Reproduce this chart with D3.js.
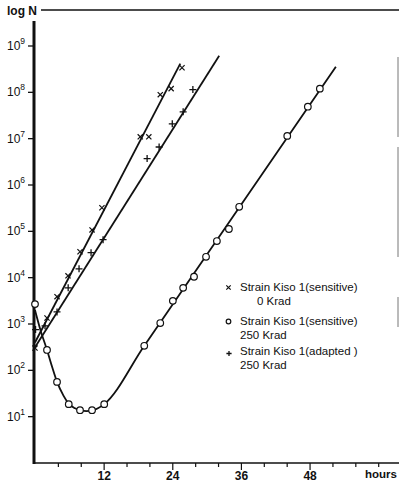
<!DOCTYPE html>
<html>
<head>
<meta charset="utf-8">
<script src="https://cdn.jsdelivr.net/npm/d3@7"></script>
<style>
  html, body { margin: 0; padding: 0; background: #fff; }
  svg { display: block; }
  text { font-family: "Liberation Sans", Arial, sans-serif; fill: #111; }
</style>
</head>
<body>
<svg id="chart" width="399" height="482"></svg>
<script>
// ---- data (hours, log10 N) ----
const sensitive0Hours = [0, 2.1, 3.85, 5.77, 7.87, 9.97, 11.7, 18.4, 19.9, 21.9, 23.8, 25.7];
const sensitive0LogN  = [2.48, 3.13, 3.59, 4.04, 4.56, 5.03, 5.51, 7.04, 7.04, 7.95, 8.08, 8.53];

const adaptedHours = [0.1, 1.75, 3.85, 5.8, 7.7, 9.8, 11.9, 19.6, 21.7, 24.0, 25.9, 27.6];
const adaptedLogN  = [2.88, 2.96, 3.26, 3.78, 4.19, 4.54, 4.82, 6.57, 6.82, 7.32, 7.58, 8.06];

const sensitive250Hours = [0, 2.1, 3.85, 5.9, 7.87, 9.97, 12.1, 19.1, 21.9, 24.1, 25.9, 27.8, 29.9, 31.8, 33.9, 35.7, 44.1, 47.7, 49.8];
const sensitive250LogN  = [3.43, 2.44, 1.75, 1.27, 1.14, 1.14, 1.27, 2.53, 3.02, 3.50, 3.78, 4.02, 4.45, 4.79, 5.05, 5.53, 7.06, 7.69, 8.08];

// fitted curves drawn in the figure
const sensitive0FitHours = [0, 25.4];
const sensitive0FitLogN  = [2.6, 8.62];
const adaptedFitHours = [0, 32.2];
const adaptedFitLogN  = [2.5, 8.79];
const sensitive250FitHours = [0, 1, 2.1, 3, 3.85, 5, 5.9, 7, 8, 9, 10, 11, 12.1, 19.1, 36, 52.6];
const sensitive250FitLogN  = [3.3, 2.85, 2.44, 2.07, 1.75, 1.45, 1.28, 1.18, 1.13, 1.12, 1.13, 1.18, 1.27, 2.53, 5.57, 8.55];

const yTickExponents = [1, 2, 3, 4, 5, 6, 7, 8, 9];
const xTickHours = [4, 8, 12, 16, 20, 24, 28, 32, 36, 40, 44, 48, 52, 56, 60];
const xLabelHours = [12, 24, 36, 48];

const legendItems = [
  { marker: "x", line1: "Strain Kiso 1(sensitive)", line2: "0 Krad" },
  { marker: "o", line1: "Strain Kiso 1(sensitive)", line2: "250 Krad" },
  { marker: "+", line1: "Strain Kiso 1(adapted )", line2: "250 Krad" }
];

// ---- drawing ----
const svg = d3.select("#chart");
const x = d3.scaleLinear().domain([0, 60]).range([35, 378.2]);
const y = d3.scaleLinear().domain([0, 9]).range([463, 46]);
const ink = "#111";

// top "log N" rule
svg.append("text").attr("x", 7).attr("y", 14.5)
  .attr("font-size", 12).attr("font-weight", "bold").text("log N");
svg.append("line").attr("x1", 41).attr("x2", 399).attr("y1", 10).attr("y2", 10)
  .attr("stroke", ink).attr("stroke-width", 1.4);

// scan edge line on the right
svg.append("line").attr("x1", 398).attr("x2", 398).attr("y1", 57).attr("y2", 345)
  .attr("stroke", "#777").attr("stroke-width", 1).attr("stroke-dasharray", "80,10,110,40,30");

// y axis (thick)
svg.append("line").attr("x1", x(0) - 1).attr("x2", x(0) - 1).attr("y1", 21).attr("y2", 464)
  .attr("stroke", ink).attr("stroke-width", 3);

const yt = svg.append("g");
yTickExponents.forEach(e => {
  yt.append("line").attr("x1", x(0) - 7).attr("x2", x(0) - 1)
    .attr("y1", y(e)).attr("y2", y(e)).attr("stroke", ink).attr("stroke-width", 1.3);
  const t = yt.append("text").attr("x", 7).attr("y", y(e) + 4).attr("font-size", 12);
  t.append("tspan").text("10");
  t.append("tspan").attr("dy", -6).attr("font-size", 8.5).text(e);
});

// x axis
svg.append("line").attr("x1", x(0) - 2).attr("x2", 399).attr("y1", 463).attr("y2", 463)
  .attr("stroke", ink).attr("stroke-width", 1.6);
const xAxis = d3.axisBottom(x).tickValues(xTickHours).tickSize(4)
  .tickFormat(d => xLabelHours.includes(d) ? d : "");
const gx = svg.append("g").attr("transform", "translate(0,463)").call(xAxis);
gx.select(".domain").remove();
gx.selectAll(".tick line").attr("stroke", ink).attr("stroke-width", 1.2);
gx.selectAll(".tick").filter(d => xLabelHours.includes(d)).select("line").attr("y2", 7);
gx.selectAll(".tick text").attr("y", 8).attr("dy", "0.71em")
  .attr("font-size", 12).attr("font-weight", "bold")
  .style("font-family", '"Liberation Sans", Arial, sans-serif').attr("fill", ink);
svg.append("text").attr("x", 397).attr("y", 478).attr("font-size", 11.5)
  .attr("text-anchor", "end").attr("font-weight", "bold").text("hours");

// fitted lines
const lineGen = d3.line().x(d => x(d[0])).y(d => y(d[1]));
const zip = (a, b) => a.map((v, i) => [v, b[i]]);
svg.append("path").datum(zip(sensitive0FitHours, sensitive0FitLogN))
  .attr("d", lineGen).attr("fill", "none").attr("stroke", ink).attr("stroke-width", 1.8);
svg.append("path").datum(zip(adaptedFitHours, adaptedFitLogN))
  .attr("d", lineGen).attr("fill", "none").attr("stroke", ink).attr("stroke-width", 1.8);
svg.append("path").datum(zip(sensitive250FitHours, sensitive250FitLogN))
  .attr("d", lineGen.curve(d3.curveMonotoneX)).attr("fill", "none")
  .attr("stroke", ink).attr("stroke-width", 1.8);

// markers
function drawX(g, cx, cy, s) {
  g.append("path").attr("d", `M${cx - s},${cy - s}L${cx + s},${cy + s}M${cx - s},${cy + s}L${cx + s},${cy - s}`)
    .attr("stroke", ink).attr("stroke-width", 1.2).attr("fill", "none");
}
function drawPlus(g, cx, cy, s) {
  g.append("path").attr("d", `M${cx - s},${cy}L${cx + s},${cy}M${cx},${cy - s}L${cx},${cy + s}`)
    .attr("stroke", ink).attr("stroke-width", 1.3).attr("fill", "none");
}
function drawO(g, cx, cy, r) {
  g.append("circle").attr("cx", cx).attr("cy", cy).attr("r", r)
    .attr("fill", "#fff").attr("stroke", ink).attr("stroke-width", 1.2);
}
const mk = svg.append("g");
sensitive0Hours.forEach((h, i) => drawX(mk, x(h), y(sensitive0LogN[i]), 2.6));
adaptedHours.forEach((h, i) => drawPlus(mk, x(h), y(adaptedLogN[i]), 3.5));
sensitive250Hours.forEach((h, i) => drawO(mk, x(h), y(sensitive250LogN[i]), 3.3));

// legend
const lg = svg.append("g");
const legendY = [291, 325, 355];
legendItems.forEach((it, i) => {
  const by = legendY[i];
  if (it.marker === "x") drawX(lg, 228.5, by - 3.5, 2.2);
  if (it.marker === "o") drawO(lg, 228.5, by - 3.5, 2.3);
  if (it.marker === "+") drawPlus(lg, 229, by - 1.5, 2.6);
  lg.append("text").attr("x", 240).attr("y", by).attr("font-size", 11.5).text(it.line1);
  lg.append("text").attr("x", it.marker === "x" ? 257 : 240).attr("y", by + 13.5)
    .attr("font-size", 11.5).text(it.line2);
});
</script>
</body>
</html>
